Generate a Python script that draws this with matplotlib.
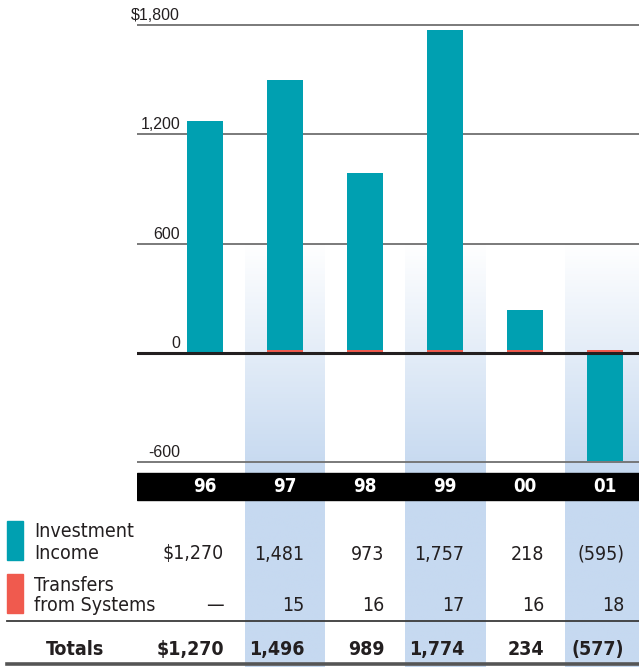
import matplotlib.pyplot as plt
import matplotlib.transforms as mtransforms
from matplotlib import font_manager as fm
from matplotlib.lines import Line2D
from matplotlib.patches import Rectangle
import numpy as np

# data
years = ["96", "97", "98", "99", "00", "01"]
income = np.array([1270, 1481, 973, 1757, 218, -595])
transfers = np.array([0, 15, 16, 17, 16, 18])
income_lbl = ["$1,270", "1,481", "973", "1,757", "218", "(595)"]
transfer_lbl = ["\u2014", "15", "16", "17", "16", "18"]
total_lbl = ["$1,270", "1,496", "989", "1,774", "234", "(577)"]
yticks = [1800, 1200, 600, 0, -600]
ytick_lbl = ["$1,800", "1,200", "600", "0", "-600"]
shaded = [1, 3, 5]

teal = "#00a0b1"
red = "#f05a4e"
blue = "#c6d9f0"
ink = "#231f20"

# look for a condensed face, otherwise plain Liberation Sans
def find_cond(bold):
    for f in fm.fontManager.ttflist:
        nm = (f.name + " " + f.fname).lower()
        if ("narrow" in nm or "condensed" in nm) and "italic" not in nm and "oblique" not in nm:
            isbold = f.weight in ("bold", 700) or (isinstance(f.weight, int) and f.weight >= 600)
            if isbold == bold and "light" not in nm and "semi" not in nm:
                return f.fname
    return None

reg_path, bold_path = find_cond(False), find_cond(True)
if reg_path and bold_path:
    fp_reg = fm.FontProperties(fname=reg_path, size=14)
    fp_bold = fm.FontProperties(fname=bold_path, size=14)
    fp_year = fm.FontProperties(fname=bold_path, size=13.5)
else:
    fp_reg = fm.FontProperties(family="Liberation Sans", size=14)
    fp_bold = fm.FontProperties(family="Liberation Sans", weight="bold", size=14)
    fp_year = fm.FontProperties(family="Liberation Sans", weight="bold", size=13)

W, H = 639, 667
fig = plt.figure(figsize=(W / 100, H / 100), dpi=100)
ax = fig.add_axes([137 / W, 0, 1 - 137 / W, 1])
ax.set_axis_off()
upp = 600 / 109.4  # data units per pixel
ax.set_xlim(-0.85, 5.425)
ax.set_ylim(-(H - 353) * upp, 353 * upp)
ymin, ymax = ax.get_ylim()

def fy(px):
    return 1 - px / H

x = np.arange(len(years))

# shaded columns with gradient
grad_top, grad_full = 600, -(470 - 353) * upp
ys = np.linspace(ymin, grad_top, 400)
g = np.clip((grad_top - ys) / (grad_top - grad_full), 0, 1)[::-1].reshape(-1, 1)
cmap = plt.matplotlib.colors.LinearSegmentedColormap.from_list("bg", ["white", blue])
for i in shaded:
    ax.imshow(g, cmap=cmap, vmin=0, vmax=1, aspect="auto",
              extent=(i - 0.5, i + 0.5, ymin, grad_top), zorder=0)
ax.set_xlim(-0.85, 5.425)
ax.set_ylim(ymin, ymax)

# grid lines and labels
for v, lbl in zip(yticks, ytick_lbl):
    if v == 0:
        ax.axhline(v, color=ink, lw=2.2, zorder=5)
    else:
        ax.axhline(v, color="#6f6f6f", lw=1.3, zorder=1)
    ax.text(-0.3125, v + 5 * upp, lbl, ha="right", va="baseline",
            fontsize=11.5, color=ink, family="Liberation Sans")

# bars
bw = 0.45
ax.bar(x, transfers, bw, color=red, zorder=3)
inc_bottom = np.where(income > 0, transfers, 0)
ax.bar(x, income, bw, bottom=inc_bottom, color=teal, zorder=3)

# year band
ax.axhspan(-(500 - 353) * upp, -(472.5 - 353) * upp, color="black", zorder=4)
for xi, yr in zip(x, years):
    ax.text(xi, -(486 - 353) * upp, yr, ha="center", va="center",
            color="white", fontproperties=fp_year, zorder=6)

# table
tr = mtransforms.blended_transform_factory(ax.transData, fig.transFigure)
off = 0.24
for xi, a, b, c in zip(x, income_lbl, transfer_lbl, total_lbl):
    ax.text(xi + off, fy(559.5), a, transform=tr, ha="right", va="baseline",
            color=ink, fontproperties=fp_reg)
    ax.text(xi + off, fy(611), b, transform=tr, ha="right", va="baseline",
            color=ink, fontproperties=fp_reg)
    ax.text(xi + off, fy(655), c, transform=tr, ha="right", va="baseline",
            color=ink, fontproperties=fp_bold)

fig.add_artist(Rectangle((7.3 / W, fy(560)), 15.4 / W, 39 / H, color=teal,
                         transform=fig.transFigure))
fig.add_artist(Rectangle((7.3 / W, fy(612.7)), 15.4 / W, 38.7 / H, color=red,
                         transform=fig.transFigure))
for txt, py in [("Investment", 537.3), ("Income", 559.3),
                ("Transfers", 590.7), ("from Systems", 610.7)]:
    fig.text(34 / W, fy(py), txt, ha="left", va="baseline",
             color=ink, fontproperties=fp_reg)
fig.text(104 / W, fy(655), "Totals", ha="right", va="baseline",
         color=ink, fontproperties=fp_bold)

fig.add_artist(Line2D([7.3 / W, 1], [fy(621), fy(621)], color="#3a3a3a", lw=1.3,
                      transform=fig.transFigure))
fig.add_artist(Line2D([7.3 / W, 1], [fy(664), fy(664)], color="#555555", lw=2.6,
                      transform=fig.transFigure))

fig.savefig("out.png", dpi=100)
